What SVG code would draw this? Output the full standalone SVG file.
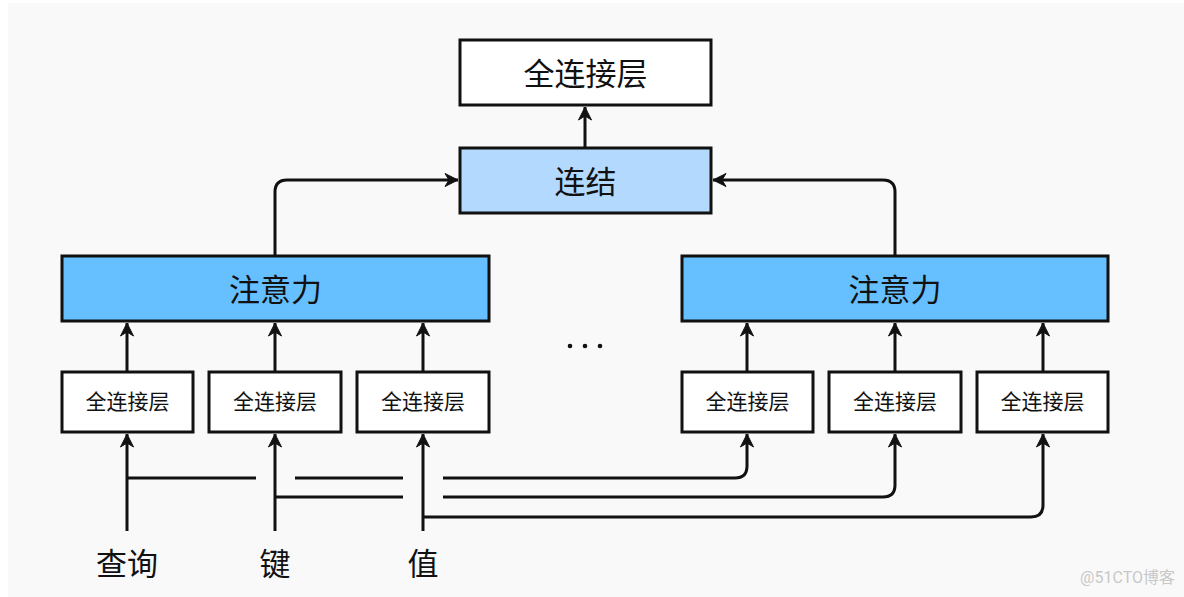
<svg xmlns="http://www.w3.org/2000/svg" width="1184" height="597" viewBox="0 0 1184 597">
<style>
.box{stroke:#111;stroke-width:3}
.w{fill:#fff}
.lb{fill:#b3d9ff}
.db{fill:#66bfff}
.t{font-family:"Noto Sans CJK SC","Noto Sans",sans-serif;fill:#111;text-anchor:middle;dominant-baseline:central}
.big{font-size:31px}
.sm{font-size:21px}
.ln{fill:none;stroke:#111;stroke-width:3;stroke-linejoin:round}
</style>
<defs>
<marker id="ah" markerUnits="userSpaceOnUse" viewBox="-14 -8 16 16" refX="0" refY="0" markerWidth="16" markerHeight="16" orient="auto">
<path d="M0,0 L-13,-6.5 L-9,0 L-13,6.5 Z" fill="#111" stroke="#111" stroke-width="1" stroke-linejoin="round"/>
</marker>
</defs>
<rect x="8" y="3" width="1176" height="594" fill="#f9f9f9"/>
<g id="connectors">
<path class="ln" d="M585,147 V107" marker-end="url(#ah)"/>
<path class="ln" d="M275,256 V192 Q275,180 287,180 H458" marker-end="url(#ah)"/>
<path class="ln" d="M895,256 V192 Q895,180 883,180 H713" marker-end="url(#ah)"/>
<path class="ln" d="M127,372 V323" marker-end="url(#ah)"/>
<path class="ln" d="M275,372 V323" marker-end="url(#ah)"/>
<path class="ln" d="M423,372 V323" marker-end="url(#ah)"/>
<path class="ln" d="M747,372 V323" marker-end="url(#ah)"/>
<path class="ln" d="M895,372 V323" marker-end="url(#ah)"/>
<path class="ln" d="M1043,372 V323" marker-end="url(#ah)"/>
<path class="ln" d="M127,531 V434" marker-end="url(#ah)"/>
<path class="ln" d="M275,531 V434" marker-end="url(#ah)"/>
<path class="ln" d="M423,531 V434" marker-end="url(#ah)"/>
<path class="ln" d="M127,478 H256"/>
<path class="ln" d="M295,478 H403"/>
<path class="ln" d="M443,478 H735 Q747,478 747,466 V434" marker-end="url(#ah)"/>
<path class="ln" d="M275,497 H403"/>
<path class="ln" d="M443,497 H883 Q895,497 895,485 V434" marker-end="url(#ah)"/>
<path class="ln" d="M423,517 H1031 Q1043,517 1043,505 V434" marker-end="url(#ah)"/>
</g>
<g id="fc-top"><rect class="box w" x="460" y="40" width="251" height="65"/><text class="t big" x="585.5" y="71">全连接层</text></g>
<g id="concat"><rect class="box lb" x="460" y="148" width="251" height="65"/><text class="t big" x="585.5" y="179">连结</text></g>
<g id="attn-left"><rect class="box db" x="62" y="256" width="427" height="65"/><text class="t big" x="275.5" y="287">注意力</text></g>
<g id="attn-right"><rect class="box db" x="682" y="256" width="426" height="65"/><text class="t big" x="895" y="287">注意力</text></g>
<g id="fc-q1"><rect class="box w" x="62" y="372" width="131" height="60"/><text class="t sm" x="127.5" y="400">全连接层</text></g>
<g id="fc-k1"><rect class="box w" x="209" y="372" width="132" height="60"/><text class="t sm" x="275" y="400">全连接层</text></g>
<g id="fc-v1"><rect class="box w" x="357" y="372" width="132" height="60"/><text class="t sm" x="423" y="400">全连接层</text></g>
<g id="fc-q2"><rect class="box w" x="682" y="372" width="131" height="60"/><text class="t sm" x="747.5" y="400">全连接层</text></g>
<g id="fc-k2"><rect class="box w" x="829" y="372" width="132" height="60"/><text class="t sm" x="895" y="400">全连接层</text></g>
<g id="fc-v2"><rect class="box w" x="977" y="372" width="131" height="60"/><text class="t sm" x="1042.5" y="400">全连接层</text></g>
<g id="dots" fill="#111"><circle cx="570" cy="346" r="2.3"/><circle cx="585" cy="346" r="2.3"/><circle cx="600" cy="346" r="2.3"/></g>
<g id="in-query"><text class="t big" x="127" y="561">查询</text></g>
<g id="in-key"><text class="t big" x="275" y="561">键</text></g>
<g id="in-value"><text class="t big" x="423" y="561">值</text></g>
<text x="1175" y="577" font-family="Roboto,&quot;Noto Sans CJK SC&quot;,sans-serif" font-size="16" fill="#c8c8c8" text-anchor="end" dominant-baseline="central">@51CTO博客</text>
</svg>
